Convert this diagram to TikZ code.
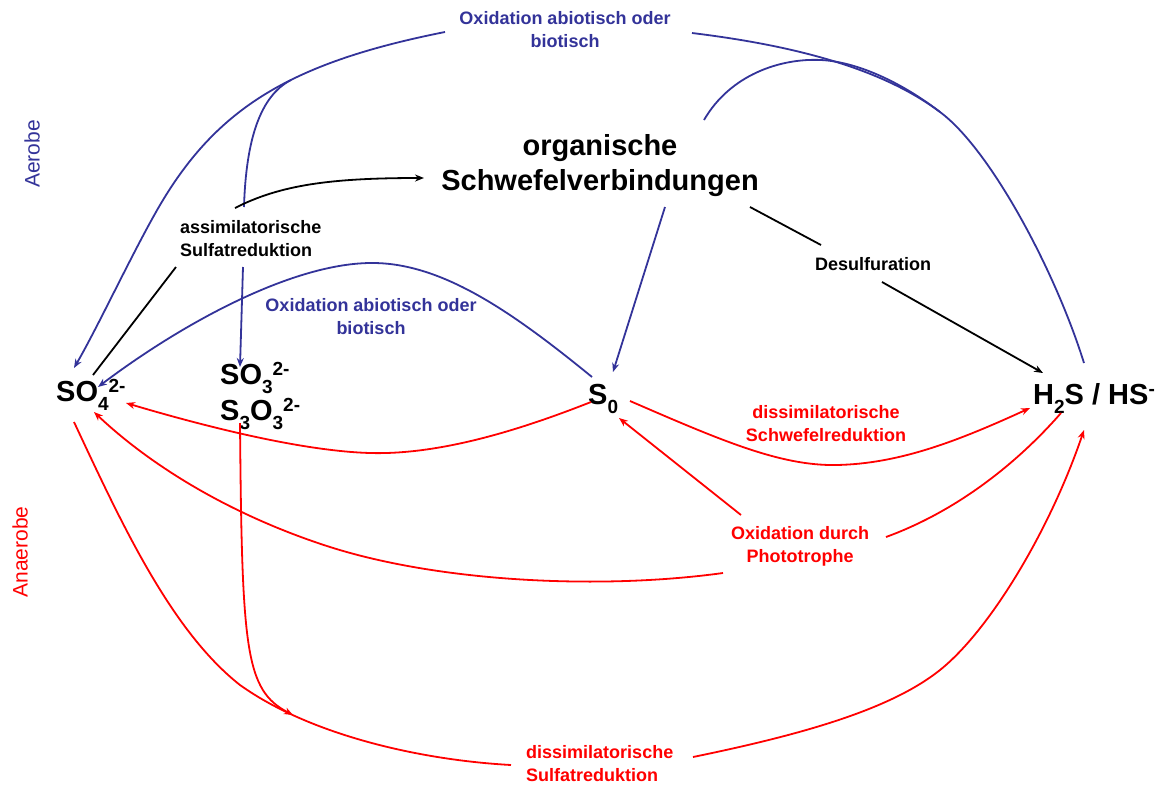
\documentclass[tikz,border=0pt]{standalone}
\usepackage{fontspec}
\setmainfont{Liberation Sans}
\usetikzlibrary{arrows.meta}
\definecolor{oxblue}{RGB}{51,51,153}
\definecolor{anred}{RGB}{255,0,0}
\newcommand{\mysub}[1]{\raisebox{-0.33em}{\fontsize{19}{19}\selectfont #1}}
\newcommand{\mysup}[1]{\raisebox{0.3em}{\fontsize{19}{19}\selectfont #1}}
\begin{document}
\begin{tikzpicture}[x=1pt,y=-1pt,
  species/.style={font=\bfseries\fontsize{29}{36}\selectfont, inner sep=0pt, align=left},
  lab/.style={font=\bfseries\fontsize{18}{23}\selectfont, inner sep=0pt, align=center},
  side/.style={font=\fontsize{21}{21}\selectfont, inner sep=0pt, rotate=90},
  bl/.style={draw=oxblue, line width=1.8pt},
  rd/.style={draw=anred, line width=1.8pt},
  bk/.style={draw=black, line width=1.8pt},
  arr/.style={-{Stealth[length=9pt,width=7pt]}}
]
\useasboundingbox (0,0) rectangle (1160,785);

% species
\node[species, anchor=base west] (so4) at (56,401) {SO\mysub{4}\mysup{2-}};
\node[species, anchor=north west] (so3) at (220,362) {SO\mysub{3}\mysup{2-}\\S\mysub{3}O\mysub{3}\mysup{2-}};
\node[species, anchor=base west] (s0) at (588,404) {S\mysub{0}};
\node[species, anchor=base west] (h2s) at (1033,404) {H\mysub{2}S / HS\mysup{-}};
\node[species, align=center, font=\bfseries\fontsize{29}{35}\selectfont] (org) at (600,166) {organische\\Schwefelverbindungen};

% labels
\node[lab, text=oxblue] (oxtop) at (565,30) {Oxidation abiotisch oder\\biotisch};
\node[lab, text=oxblue] (oxmid) at (371,317) {Oxidation abiotisch oder\\biotisch};
\node[lab, align=left, anchor=west] (assim) at (180,239) {assimilatorische\\Sulfatreduktion};
\node[lab] (desulf) at (873,264) {Desulfuration};
\node[lab, text=anred] (dissS) at (826,424) {dissimilatorische\\Schwefelreduktion};
\node[lab, text=anred] (photo) at (800,546) {Oxidation durch\\Phototrophe};
\node[lab, text=anred, align=left, anchor=west] (dissSulf) at (526,764) {dissimilatorische\\Sulfatreduktion};
\node[side, text=oxblue] (aerobe) at (32,154) {Aerobe};
\node[side, text=anred] (anaerobe) at (20,552) {Anaerobe};

% connection points
\coordinate (h2s-top) at (1084,363);
\coordinate (oxtop-e) at (692,33);
\coordinate (oxtop-w) at (445,32);
\coordinate (so4-a) at (74,368);
\coordinate (org-top) at (704,120);
\coordinate (merge) at (940,112);
\coordinate (branch) at (291,80);
\coordinate (assim-n) at (244,207);
\coordinate (assim-s) at (243,267);
\coordinate (so3-n) at (240,367);
\coordinate (s0-nw) at (592,377);
\coordinate (so4-b) at (98,387);
\coordinate (org-s) at (665,207);
\coordinate (s0-n) at (613,372);
\coordinate (so4-c) at (93,375);
\coordinate (assim-sw) at (176,267);
\coordinate (assim-ne) at (235,208);
\coordinate (org-w) at (424,178);
\coordinate (org-se) at (750,207);
\coordinate (desulf-nw) at (821,245);
\coordinate (desulf-se) at (882,282);
\coordinate (h2s-nw) at (1043,373);
\coordinate (s0-sw) at (591,402);
\coordinate (so4-e) at (126,403);
\coordinate (s0-e) at (630,401);
\coordinate (h2s-w) at (1030,408);
\coordinate (photo-nw) at (741,515);
\coordinate (s0-se) at (619,418);
\coordinate (h2s-s) at (1061,413);
\coordinate (photo-e) at (886,537);
\coordinate (photo-sw) at (723,573);
\coordinate (so4-se) at (94,412);
\coordinate (so4-s) at (74,422);
\coordinate (dissSulf-w) at (511,765);
\coordinate (so3-s) at (240,423);
\coordinate (merge-r) at (293,715);
\coordinate (dissSulf-e) at (693,757);
\coordinate (h2s-se) at (1084,430);

% blue connectors
\draw[bl] (h2s-top) .. controls (1055,270) and (990,149) .. (merge)
  .. controls (880,67) and (790,45) .. (oxtop-e);
\draw[bl, arr] (oxtop-w) .. controls (294,62) and (220,106) .. (163,200)
  .. controls (137,243) and (99,325) .. (so4-a);
\draw[bl] (org-top) .. controls (730,75) and (780,58) .. (821,60)
  .. controls (860,62) and (905,85) .. (merge);
\draw[bl] (branch) .. controls (260,96) and (246,140) .. (assim-n);
\draw[bl, arr] (assim-s) -- (so3-n);
\draw[bl, arr] (s0-nw) .. controls (510,310) and (440,262) .. (370,263)
  .. controls (290,264) and (180,325) .. (so4-b);
\draw[bl, arr] (org-s) -- (s0-n);

% black connectors
\draw[bk] (so4-c) -- (assim-sw);
\draw[bk, arr] (assim-ne) .. controls (280,185) and (330,178) .. (org-w);
\draw[bk] (org-se) -- (desulf-nw);
\draw[bk, arr] (desulf-se) -- (h2s-nw);

% red connectors
\draw[rd, arr] (s0-sw) .. controls (520,430) and (440,455) .. (370,453)
  .. controls (300,451) and (200,425) .. (so4-e);
\draw[rd, arr] (s0-e) .. controls (720,440) and (780,466) .. (836,465)
  .. controls (900,464) and (960,440) .. (h2s-w);
\draw[rd, arr] (photo-nw) -- (s0-se);
\draw[rd] (h2s-s) .. controls (1020,460) and (960,510) .. (photo-e);
\draw[rd, arr] (photo-sw) .. controls (600,590) and (440,582) .. (330,547)
  .. controls (230,515) and (150,465) .. (so4-se);
\draw[rd] (so4-s) .. controls (120,520) and (170,630) .. (240,685)
  .. controls (310,735) and (420,760) .. (dissSulf-w);
\draw[rd, arr] (so3-s) .. controls (242,650) and (245,690) .. (merge-r);
\draw[rd, arr] (dissSulf-e) .. controls (800,735) and (890,710) .. (940,670)
  .. controls (990,630) and (1050,530) .. (h2s-se);
\end{tikzpicture}
\end{document}
